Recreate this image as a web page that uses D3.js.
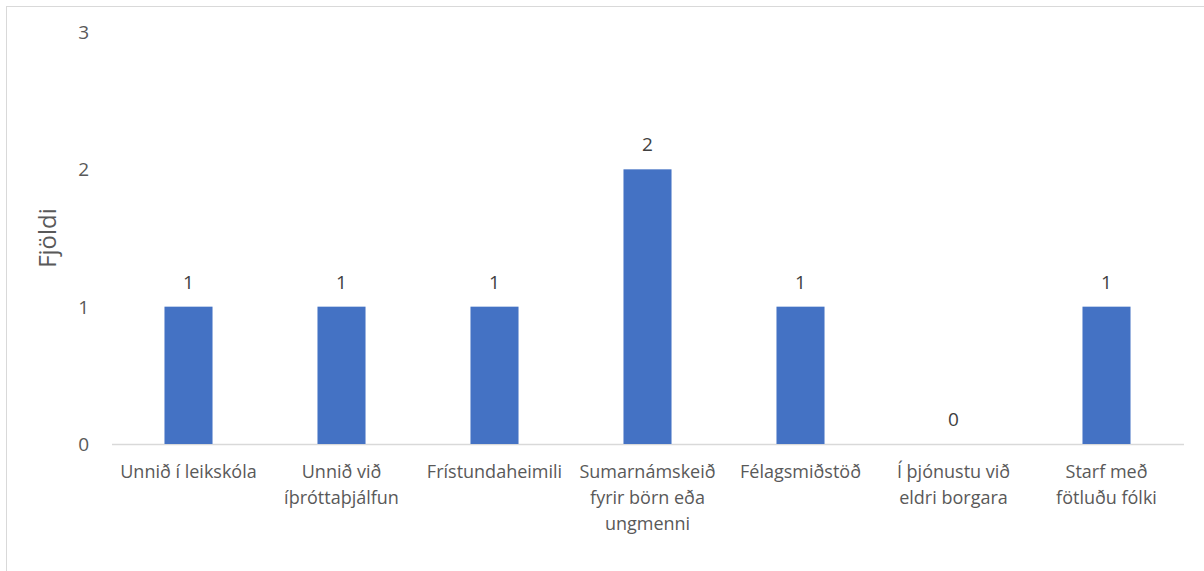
<!DOCTYPE html>
<html>
<head>
<meta charset="utf-8">
<script src="https://cdn.jsdelivr.net/npm/d3@7"></script>
<style>
  html, body { margin: 0; padding: 0; background: #fff; }
  svg { display: block; font-family: 'Open Sans', sans-serif; }
</style>
</head>
<body>
<div id="chart"></div>
<script>
'use strict';

var categories = [
  ['Unnið í leikskóla'],
  ['Unnið við', 'íþróttaþjálfun'],
  ['Frístundaheimili'],
  ['Sumarnámskeið', 'fyrir börn eða', 'ungmenni'],
  ['Félagsmiðstöð'],
  ['Í þjónustu við', 'eldri borgara'],
  ['Starf með', 'fötluðu fólki']
];
var values = [1, 1, 1, 2, 1, 0, 1];
var yTicks = [0, 1, 2, 3];
var yTitle = 'Fjöldi';

var width = 1204;
var height = 571;
var margin = { left: 112, right: 20, top: 32, bottom: 127 };
var textColor = '#595959';
var barColor = '#4472c4';

var svg = d3.select('#chart').append('svg').attr('width', width).attr('height', height);

// chart border
svg.append('rect').attr('x', 6.5).attr('y', 6.5).attr('width', width + 20).attr('height', height + 20)
  .attr('fill', 'none').attr('stroke', '#d9d9d9').attr('stroke-width', 1);

var x = d3.scaleBand().domain(d3.range(categories.length)).range([margin.left, 1183]).paddingInner(0.686).paddingOuter(0.343);
var y = d3.scaleLinear().domain([0, 3]).range([444, margin.top]);

// y axis labels
var yAxis = svg.append('g').attr('transform', 'translate(89,0)')
  .call(d3.axisLeft(y).tickValues(yTicks).tickSize(0).tickPadding(0).tickFormat(d3.format('d')));
yAxis.select('.domain').remove();
yAxis.selectAll('text').attr('fill', textColor).style('font-size', '19px').style('font-family', "'Open Sans', sans-serif").attr('dy', '0.35em');

// x axis line
svg.append('line').attr('x1', margin.left).attr('x2', 1184).attr('y1', y(0) + 0.5).attr('y2', y(0) + 0.5)
  .attr('stroke', '#d9d9d9').attr('stroke-width', 1.5);

// bars
svg.append('g').selectAll('rect').data(values).enter().append('rect')
  .attr('x', function (d, i) { return x(i); })
  .attr('y', function (d) { return y(d); })
  .attr('width', x.bandwidth())
  .attr('height', function (d) { return y(0) - y(d); })
  .attr('fill', barColor);

// value labels
svg.append('g').selectAll('text').data(values).enter().append('text')
  .attr('x', function (d, i) { return x(i) + x.bandwidth() / 2; })
  .attr('y', function (d) { return y(d) - 18; })
  .attr('text-anchor', 'middle')
  .attr('fill', '#404040')
  .style('font-size', '19px')
  .text(function (d) { return d; });

// category labels
var catG = svg.append('g').selectAll('text').data(categories).enter().append('text')
  .attr('x', function (d, i) { return x(i) + x.bandwidth() / 2; })
  .attr('y', 478)
  .attr('text-anchor', 'middle')
  .attr('fill', textColor)
  .style('font-size', '18px');
catG.selectAll('tspan').data(function (d) { return d; }).enter().append('tspan')
  .attr('x', function () { return d3.select(this.parentNode).attr('x'); })
  .attr('dy', function (d, i) { return i === 0 ? 0 : 26; })
  .text(function (d) { return d; });

// y title
svg.append('text').attr('transform', 'translate(56,238) rotate(-90)')
  .attr('text-anchor', 'middle').attr('fill', textColor).style('font-size', '24px').text(yTitle);
</script>
</body>
</html>
